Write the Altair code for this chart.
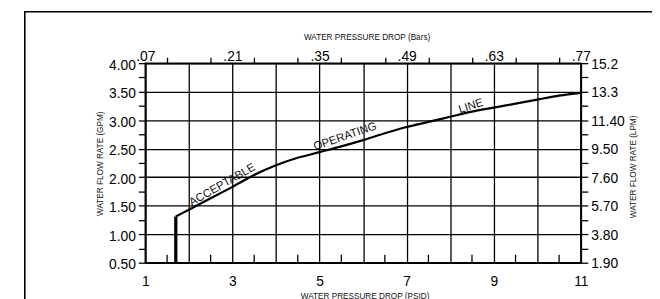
import altair as alt
import pandas as pd

# ---- data ----
# operating line: water pressure drop (PSID) vs water flow rate (GPM)
psid = [1.7, 2.0, 2.5, 3.0, 3.5, 4.0, 4.5, 5.0, 5.5, 6.0, 6.5, 7.0, 7.5, 8.0,
        8.5, 9.0, 9.5, 10.0, 10.5, 11.0]
gpm = [1.31, 1.43, 1.63, 1.83, 2.04, 2.21, 2.34, 2.44, 2.54, 2.65, 2.77, 2.88,
       2.97, 3.06, 3.15, 3.22, 3.29, 3.36, 3.43, 3.48]

# minimum-flow cut-off segment
min_psid = [1.7, 1.7]
min_gpm = [0.5, 1.31]

# axes
x_major = [1, 2, 3, 4, 5, 6, 7, 8, 9, 10, 11]
x_half = [1.5, 2.5, 3.5, 4.5, 5.5, 6.5, 7.5, 8.5, 9.5, 10.5]
x_top_values = [1, 1.5, 2, 2.5, 3, 3.5, 4, 4.5, 5, 5.5, 6, 6.5, 7, 7.5, 8, 8.5,
                9, 9.5, 10, 10.5, 11]
y_values = [0.5, 0.75, 1.0, 1.25, 1.5, 1.75, 2.0, 2.25, 2.5, 2.75, 3.0, 3.25,
            3.5, 3.75, 4.0]
bars_labels = [".07", ".21", ".35", ".49", ".63", ".77"]
lpm_labels = ["1.90", "3.80", "5.70", "7.60", "9.50", "11.40", "13.3", "15.2"]

# annotations along the curve
label_text = ["ACCEPTABLE", "OPERATING", "LINE"]
label_x = [2.77, 5.59, 8.48]
label_y = [1.86, 2.71, 3.24]
label_angle = [330, 341, 342]

# ---- tables ----
curve_df = pd.DataFrame({"psid": psid, "gpm": gpm})
min_df = pd.DataFrame({"psid": min_psid, "gpm": min_gpm})
half_df = pd.DataFrame({"x": x_half})
lab_df = pd.DataFrame({"text": label_text, "x": label_x, "y": label_y,
                       "angle": label_angle})
frame_df = pd.DataFrame({"k": [0]})

W, H = 441, 202
FONT = "Liberation Sans"

X = alt.Scale(domain=[1, 11], nice=False, zero=False)
Y = alt.Scale(domain=[0.5, 4.0], nice=False, zero=False)

bars_arr = "[" + ",".join("'%s'" % s for s in bars_labels) + "]"
lpm_arr = "[" + ",".join("'%s'" % s for s in lpm_labels) + "]"

common = dict(labelFont=FONT, labelFontSize=14, labelColor="black",
              titleFont=FONT, titleFontSize=8.3, titleFontWeight="normal",
              titleColor="#111", tickColor="black", tickWidth=1.3,
              domainColor="black", domainWidth=1.5, labelOverlap=False,
              labelFlush=False, titleAlign="center", titleBaseline="middle")

axis_bottom = alt.Axis(
    orient="bottom", values=x_major, grid=True, gridColor="black",
    gridWidth=1.3, ticks=True, tickSize=0, format="d",
    labelExpr="datum.value % 2 == 1 ? datum.label : ''",
    labelBaseline="alphabetic", labelPadding=23,
    title="WATER PRESSURE DROP (PSID)", titleX=222, titleY=34, **common)

axis_left = alt.Axis(
    orient="left", values=y_values, grid=True, gridColor="black",
    gridWidth=1.3,
    gridOpacity={"condition": {"test": "datum.value % 0.5 == 0", "value": 1},
                 "value": 0},
    tickSize=7, labelPadding=3, labelOffset=2,
    labelExpr="datum.value % 0.5 == 0 ? format(datum.value, '.2f') : ''",
    title="WATER FLOW RATE (GPM)", titleAngle=270, titleX=-45.3,
    titleY=101.3, **common)

axis_top = alt.Axis(
    orient="top", values=x_top_values, grid=False, tickSize=6,
    tickOpacity={"condition": {"test": "datum.value % 1 != 0", "value": 1},
                 "value": 0},
    labelExpr="datum.value % 2 == 1 ? " + bars_arr +
              "[round((datum.value - 1) / 2)] : ''",
    labelBaseline="alphabetic", labelPadding=-3,
    title="WATER PRESSURE DROP (Bars)", titleX=224, titleY=-26, **common)

axis_right = alt.Axis(
    orient="right", values=y_values, grid=False, tickSize=7, labelPadding=3,
    labelOffset=1,
    labelExpr="datum.value % 0.5 == 0 ? " + lpm_arr +
              "[round((datum.value - 0.5) / 0.5)] : ''",
    title="WATER FLOW RATE (LPM)", titleAngle=270, titleX=53.7,
    titleY=104.5, **common)

curve = alt.Chart(curve_df).mark_line(color="black", strokeWidth=2.2,
                                      interpolate="monotone").encode(
    x=alt.X("psid:Q", scale=X, axis=axis_bottom),
    y=alt.Y("gpm:Q", scale=Y, axis=axis_left),
)

minseg = alt.Chart(min_df).mark_line(color="black", strokeWidth=3.3,
                                     strokeCap="butt").encode(
    x=alt.X("psid:Q", scale=X, axis=axis_top),
    y=alt.Y("gpm:Q", scale=Y, axis=axis_right),
)

inner_ticks = alt.Chart(half_df).mark_rule(color="black",
                                           strokeWidth=1.3).encode(
    x=alt.X("x:Q", scale=X, axis=None),
    y=alt.value(H),
    y2=alt.value(H - 8),
)

labels = alt.Chart(lab_df).mark_text(font=FONT, fontSize=11.5,
                                     color="#111", align="center",
                                     baseline="middle").encode(
    x=alt.X("x:Q", scale=X, axis=None),
    y=alt.Y("y:Q", scale=Y, axis=None),
    text="text:N",
    angle=alt.Angle("angle:Q", scale=None),
)

frame = alt.Chart(frame_df).mark_rect(fillOpacity=0, stroke="black",
                                      strokeWidth=1.6).encode(
    x=alt.value(-122), x2=alt.value(530),
    y=alt.value(-52), y2=alt.value(320),
)

chart = alt.layer(frame, curve, minseg, inner_ticks, labels).resolve_axis(
    x="independent", y="independent"
).properties(
    width=W, height=H,
    autosize=alt.AutoSizeParams(type="none"),
    padding={"left": 139, "top": 54, "right": 72, "bottom": 45},
).configure_view(stroke="black", strokeWidth=1.5)

chart.save("out.html", embed_options={"renderer": "svg", "actions": False})
